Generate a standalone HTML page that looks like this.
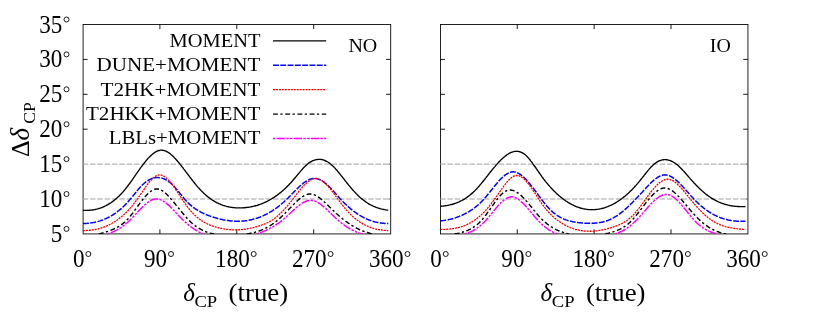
<!DOCTYPE html>
<html><head><meta charset="utf-8"><title>Delta CP precision</title>
<style>
html,body{margin:0;padding:0;background:#ffffff;}
body{width:831px;height:312px;overflow:hidden;font-family:"Liberation Serif",serif;}
svg{display:block;will-change:transform;}
</style></head><body>
<svg width="831" height="312" viewBox="0 0 831 312" role="img" aria-label="Delta CP precision versus true delta CP, normal and inverted ordering">
<rect x="0" y="0" width="831" height="312" fill="#ffffff"/>
<defs>
<clipPath id="clip0"><rect x="83.00" y="24.50" width="307.60" height="209.52"/></clipPath>
<clipPath id="clip1"><rect x="440.40" y="24.50" width="307.45" height="209.52"/></clipPath>
</defs>
<rect x="83.08" y="24.50" width="307.63" height="209.42" fill="none" stroke="#000" stroke-width="0.87"/>
<path d="M83.00,129.21 h4.60 M390.60,129.21 h-4.60 M83.00,94.31 h4.60 M390.60,94.31 h-4.60 M83.00,59.40 h4.60 M390.60,59.40 h-4.60 M159.90,233.92 v-4.60 M159.90,24.50 v4.60 M236.80,233.92 v-4.60 M236.80,24.50 v4.60 M313.70,233.92 v-4.60 M313.70,24.50 v4.60" stroke="#000" stroke-width="0.9" fill="none"/>
<line x1="82.70" y1="164.11" x2="390.60" y2="164.11" stroke="#a2a2a2" stroke-width="1.0" stroke-dasharray="5.5 1.82"/>
<line x1="82.70" y1="199.02" x2="390.60" y2="199.02" stroke="#a2a2a2" stroke-width="1.0" stroke-dasharray="5.5 1.82"/>
<path d="M390.60,199.02 h-2.10 M390.60,164.11 h-2.10" stroke="#444" stroke-width="0.9" fill="none"/>
<g clip-path="url(#clip0)" fill="none" stroke-linejoin="round">
<path d="M83.0,210.34 L83.9,210.38 L84.7,210.41 L85.6,210.42 L86.4,210.42 L87.3,210.40 L88.1,210.37 L89.0,210.32 L89.8,210.26 L90.7,210.18 L91.5,210.08 L92.4,209.97 L93.3,209.84 L94.1,209.69 L95.0,209.53 L95.8,209.34 L96.7,209.14 L97.5,208.92 L98.4,208.68 L99.2,208.42 L100.1,208.14 L100.9,207.84 L101.8,207.51 L102.7,207.17 L103.5,206.81 L104.4,206.42 L105.2,206.01 L106.1,205.58 L106.9,205.13 L107.8,204.65 L108.6,204.15 L109.5,203.62 L110.3,203.07 L111.2,202.50 L112.1,201.90 L112.9,201.28 L113.8,200.63 L114.6,199.95 L115.5,199.25 L116.3,198.52 L117.2,197.76 L118.0,196.97 L118.9,196.16 L119.7,195.32 L120.6,194.45 L121.5,193.55 L122.3,192.62 L123.2,191.67 L124.0,190.68 L124.9,189.66 L125.7,188.61 L126.6,187.53 L127.4,186.42 L128.3,185.29 L129.1,184.14 L130.0,182.97 L130.8,181.78 L131.7,180.58 L132.6,179.37 L133.4,178.15 L134.3,176.92 L135.1,175.69 L136.0,174.45 L136.8,173.22 L137.7,171.99 L138.5,170.77 L139.4,169.56 L140.2,168.37 L141.1,167.18 L142.0,166.02 L142.8,164.87 L143.7,163.75 L144.5,162.65 L145.4,161.58 L146.2,160.54 L147.1,159.54 L147.9,158.57 L148.8,157.64 L149.6,156.76 L150.5,155.91 L151.4,155.12 L152.2,154.37 L153.1,153.67 L153.9,153.03 L154.8,152.45 L155.6,151.93 L156.5,151.47 L157.3,151.07 L158.2,150.74 L159.0,150.48 L159.9,150.30 L160.8,150.19 L161.6,150.16 L162.5,150.21 L163.3,150.34 L164.2,150.54 L165.0,150.81 L165.9,151.15 L166.7,151.56 L167.6,152.03 L168.4,152.56 L169.3,153.15 L170.2,153.79 L171.0,154.48 L171.9,155.22 L172.7,156.01 L173.6,156.84 L174.4,157.71 L175.3,158.62 L176.1,159.56 L177.0,160.53 L177.8,161.53 L178.7,162.55 L179.6,163.60 L180.4,164.67 L181.3,165.75 L182.1,166.85 L183.0,167.96 L183.8,169.08 L184.7,170.20 L185.5,171.33 L186.4,172.46 L187.2,173.59 L188.1,174.72 L189.0,175.85 L189.8,176.98 L190.7,178.09 L191.5,179.20 L192.4,180.30 L193.2,181.39 L194.1,182.47 L194.9,183.53 L195.8,184.58 L196.6,185.60 L197.5,186.61 L198.3,187.59 L199.2,188.55 L200.1,189.48 L200.9,190.39 L201.8,191.27 L202.6,192.12 L203.5,192.94 L204.3,193.74 L205.2,194.51 L206.0,195.26 L206.9,195.98 L207.7,196.68 L208.6,197.35 L209.5,198.00 L210.3,198.62 L211.2,199.22 L212.0,199.80 L212.9,200.35 L213.7,200.88 L214.6,201.39 L215.4,201.88 L216.3,202.34 L217.1,202.79 L218.0,203.21 L218.9,203.61 L219.7,203.99 L220.6,204.36 L221.4,204.70 L222.3,205.02 L223.1,205.32 L224.0,205.61 L224.8,205.88 L225.7,206.12 L226.5,206.36 L227.4,206.57 L228.3,206.77 L229.1,206.95 L230.0,207.11 L230.8,207.26 L231.7,207.39 L232.5,207.50 L233.4,207.61 L234.2,207.69 L235.1,207.77 L235.9,207.82 L236.8,207.87 L237.7,207.90 L238.5,207.92 L239.4,207.92 L240.2,207.92 L241.1,207.90 L241.9,207.87 L242.8,207.82 L243.6,207.77 L244.5,207.71 L245.3,207.63 L246.2,207.54 L247.1,207.44 L247.9,207.33 L248.8,207.21 L249.6,207.07 L250.5,206.93 L251.3,206.77 L252.2,206.59 L253.0,206.41 L253.9,206.21 L254.7,206.00 L255.6,205.77 L256.5,205.53 L257.3,205.28 L258.2,205.01 L259.0,204.73 L259.9,204.44 L260.7,204.13 L261.6,203.80 L262.4,203.46 L263.3,203.11 L264.1,202.74 L265.0,202.36 L265.9,201.96 L266.7,201.54 L267.6,201.11 L268.4,200.66 L269.3,200.20 L270.1,199.72 L271.0,199.23 L271.8,198.71 L272.7,198.18 L273.5,197.64 L274.4,197.08 L275.2,196.50 L276.1,195.90 L277.0,195.28 L277.8,194.65 L278.7,194.00 L279.5,193.33 L280.4,192.64 L281.2,191.94 L282.1,191.21 L282.9,190.47 L283.8,189.71 L284.6,188.93 L285.5,188.13 L286.4,187.31 L287.2,186.47 L288.1,185.61 L288.9,184.73 L289.8,183.83 L290.6,182.91 L291.5,181.97 L292.3,181.01 L293.2,180.03 L294.0,179.03 L294.9,178.02 L295.8,176.99 L296.6,175.96 L297.5,174.92 L298.3,173.89 L299.2,172.87 L300.0,171.85 L300.9,170.85 L301.7,169.87 L302.6,168.92 L303.4,167.99 L304.3,167.09 L305.2,166.24 L306.0,165.42 L306.9,164.65 L307.7,163.93 L308.6,163.26 L309.4,162.65 L310.3,162.09 L311.1,161.58 L312.0,161.12 L312.8,160.71 L313.7,160.36 L314.6,160.06 L315.4,159.81 L316.3,159.61 L317.1,159.47 L318.0,159.38 L318.8,159.34 L319.7,159.35 L320.5,159.41 L321.4,159.52 L322.2,159.69 L323.1,159.91 L324.0,160.18 L324.8,160.50 L325.7,160.87 L326.5,161.30 L327.4,161.77 L328.2,162.30 L329.1,162.88 L329.9,163.51 L330.8,164.19 L331.6,164.92 L332.5,165.70 L333.4,166.53 L334.2,167.39 L335.1,168.30 L335.9,169.23 L336.8,170.20 L337.6,171.20 L338.5,172.22 L339.3,173.26 L340.2,174.32 L341.0,175.39 L341.9,176.47 L342.8,177.56 L343.6,178.65 L344.5,179.74 L345.3,180.83 L346.2,181.91 L347.0,182.99 L347.9,184.05 L348.7,185.11 L349.6,186.15 L350.4,187.18 L351.3,188.20 L352.1,189.20 L353.0,190.18 L353.9,191.14 L354.7,192.07 L355.6,192.99 L356.4,193.88 L357.3,194.74 L358.1,195.58 L359.0,196.38 L359.8,197.16 L360.7,197.92 L361.5,198.64 L362.4,199.34 L363.3,200.02 L364.1,200.67 L365.0,201.30 L365.8,201.90 L366.7,202.47 L367.5,203.03 L368.4,203.56 L369.2,204.06 L370.1,204.55 L370.9,205.01 L371.8,205.45 L372.7,205.87 L373.5,206.26 L374.4,206.64 L375.2,206.99 L376.1,207.33 L376.9,207.65 L377.8,207.94 L378.6,208.22 L379.5,208.48 L380.3,208.72 L381.2,208.95 L382.1,209.15 L382.9,209.34 L383.8,209.52 L384.6,209.67 L385.5,209.81 L386.3,209.94 L387.2,210.05 L388.0,210.14 L388.3,210.17" stroke="#000000" stroke-width="1.35"/>
<path d="M83.0,223.56 L83.9,223.54 L84.7,223.51 L85.6,223.47 L86.4,223.42 L87.3,223.36 L88.1,223.28 L89.0,223.20 L89.8,223.10 L90.7,222.99 L91.5,222.86 L92.4,222.73 L93.3,222.58 L94.1,222.41 L95.0,222.24 L95.8,222.04 L96.7,221.84 L97.5,221.62 L98.4,221.38 L99.2,221.13 L100.1,220.86 L100.9,220.58 L101.8,220.28 L102.7,219.97 L103.5,219.64 L104.4,219.29 L105.2,218.92 L106.1,218.54 L106.9,218.14 L107.8,217.72 L108.6,217.28 L109.5,216.83 L110.3,216.35 L111.2,215.86 L112.1,215.34 L112.9,214.81 L113.8,214.26 L114.6,213.68 L115.5,213.09 L116.3,212.47 L117.2,211.84 L118.0,211.18 L118.9,210.50 L119.7,209.80 L120.6,209.07 L121.5,208.33 L122.3,207.56 L123.2,206.77 L124.0,205.95 L124.9,205.11 L125.7,204.25 L126.6,203.36 L127.4,202.45 L128.3,201.51 L129.1,200.55 L130.0,199.56 L130.8,198.55 L131.7,197.51 L132.6,196.46 L133.4,195.39 L134.3,194.32 L135.1,193.25 L136.0,192.18 L136.8,191.12 L137.7,190.08 L138.5,189.06 L139.4,188.07 L140.2,187.11 L141.1,186.20 L142.0,185.33 L142.8,184.50 L143.7,183.72 L144.5,182.99 L145.4,182.30 L146.2,181.66 L147.1,181.07 L147.9,180.52 L148.8,180.02 L149.6,179.56 L150.5,179.15 L151.4,178.79 L152.2,178.48 L153.1,178.21 L153.9,177.98 L154.8,177.81 L155.6,177.68 L156.5,177.60 L157.3,177.56 L158.2,177.57 L159.0,177.63 L159.9,177.74 L160.8,177.89 L161.6,178.09 L162.5,178.34 L163.3,178.63 L164.2,178.97 L165.0,179.36 L165.9,179.80 L166.7,180.28 L167.6,180.81 L168.4,181.39 L169.3,182.01 L170.2,182.68 L171.0,183.40 L171.9,184.17 L172.7,184.99 L173.6,185.85 L174.4,186.76 L175.3,187.71 L176.1,188.70 L177.0,189.73 L177.8,190.77 L178.7,191.84 L179.6,192.91 L180.4,193.99 L181.3,195.06 L182.1,196.13 L183.0,197.17 L183.8,198.20 L184.7,199.19 L185.5,200.15 L186.4,201.07 L187.2,201.96 L188.1,202.81 L189.0,203.63 L189.8,204.42 L190.7,205.17 L191.5,205.90 L192.4,206.60 L193.2,207.27 L194.1,207.91 L194.9,208.52 L195.8,209.11 L196.6,209.68 L197.5,210.22 L198.3,210.74 L199.2,211.24 L200.1,211.71 L200.9,212.17 L201.8,212.61 L202.6,213.03 L203.5,213.43 L204.3,213.82 L205.2,214.19 L206.0,214.55 L206.9,214.90 L207.7,215.23 L208.6,215.55 L209.5,215.86 L210.3,216.17 L211.2,216.46 L212.0,216.75 L212.9,217.02 L213.7,217.30 L214.6,217.56 L215.4,217.81 L216.3,218.06 L217.1,218.30 L218.0,218.53 L218.9,218.75 L219.7,218.97 L220.6,219.17 L221.4,219.37 L222.3,219.55 L223.1,219.73 L224.0,219.90 L224.8,220.06 L225.7,220.21 L226.5,220.35 L227.4,220.48 L228.3,220.60 L229.1,220.72 L230.0,220.82 L230.8,220.91 L231.7,220.99 L232.5,221.06 L233.4,221.12 L234.2,221.17 L235.1,221.21 L235.9,221.24 L236.8,221.25 L237.7,221.26 L238.5,221.25 L239.4,221.24 L240.2,221.21 L241.1,221.17 L241.9,221.12 L242.8,221.05 L243.6,220.98 L244.5,220.89 L245.3,220.79 L246.2,220.68 L247.1,220.56 L247.9,220.42 L248.8,220.27 L249.6,220.11 L250.5,219.93 L251.3,219.74 L252.2,219.54 L253.0,219.33 L253.9,219.10 L254.7,218.86 L255.6,218.60 L256.5,218.34 L257.3,218.05 L258.2,217.76 L259.0,217.45 L259.9,217.13 L260.7,216.79 L261.6,216.44 L262.4,216.07 L263.3,215.69 L264.1,215.30 L265.0,214.89 L265.9,214.46 L266.7,214.02 L267.6,213.57 L268.4,213.10 L269.3,212.62 L270.1,212.12 L271.0,211.60 L271.8,211.07 L272.7,210.53 L273.5,209.97 L274.4,209.39 L275.2,208.80 L276.1,208.19 L277.0,207.57 L277.8,206.93 L278.7,206.27 L279.5,205.59 L280.4,204.91 L281.2,204.20 L282.1,203.48 L282.9,202.74 L283.8,201.98 L284.6,201.21 L285.5,200.42 L286.4,199.61 L287.2,198.78 L288.1,197.94 L288.9,197.09 L289.8,196.23 L290.6,195.36 L291.5,194.48 L292.3,193.60 L293.2,192.72 L294.0,191.85 L294.9,190.98 L295.8,190.11 L296.6,189.26 L297.5,188.42 L298.3,187.60 L299.2,186.79 L300.0,186.01 L300.9,185.25 L301.7,184.52 L302.6,183.81 L303.4,183.14 L304.3,182.49 L305.2,181.89 L306.0,181.33 L306.9,180.80 L307.7,180.32 L308.6,179.89 L309.4,179.51 L310.3,179.18 L311.1,178.91 L312.0,178.69 L312.8,178.53 L313.7,178.43 L314.6,178.40 L315.4,178.44 L316.3,178.55 L317.1,178.72 L318.0,178.95 L318.8,179.25 L319.7,179.60 L320.5,180.01 L321.4,180.47 L322.2,180.98 L323.1,181.54 L324.0,182.14 L324.8,182.79 L325.7,183.48 L326.5,184.20 L327.4,184.96 L328.2,185.76 L329.1,186.58 L329.9,187.43 L330.8,188.30 L331.6,189.20 L332.5,190.12 L333.4,191.05 L334.2,192.00 L335.1,192.95 L335.9,193.92 L336.8,194.89 L337.6,195.85 L338.5,196.82 L339.3,197.77 L340.2,198.71 L341.0,199.64 L341.9,200.55 L342.8,201.44 L343.6,202.31 L344.5,203.17 L345.3,204.00 L346.2,204.82 L347.0,205.62 L347.9,206.40 L348.7,207.16 L349.6,207.90 L350.4,208.62 L351.3,209.33 L352.1,210.02 L353.0,210.69 L353.9,211.34 L354.7,211.97 L355.6,212.59 L356.4,213.19 L357.3,213.76 L358.1,214.33 L359.0,214.87 L359.8,215.40 L360.7,215.91 L361.5,216.40 L362.4,216.87 L363.3,217.33 L364.1,217.76 L365.0,218.18 L365.8,218.59 L366.7,218.97 L367.5,219.34 L368.4,219.69 L369.2,220.03 L370.1,220.35 L370.9,220.65 L371.8,220.93 L372.7,221.20 L373.5,221.45 L374.4,221.69 L375.2,221.91 L376.1,222.11 L376.9,222.30 L377.8,222.48 L378.6,222.64 L379.5,222.79 L380.3,222.92 L381.2,223.04 L382.1,223.15 L382.9,223.25 L383.8,223.33 L384.6,223.40 L385.5,223.46 L386.3,223.50 L387.2,223.54 L388.0,223.56 L388.3,223.56" stroke="#0000ff" stroke-width="1.50" stroke-dasharray="5.9 1.4"/>
<path d="M83.0,230.59 L83.9,230.58 L84.7,230.56 L85.6,230.53 L86.4,230.50 L87.3,230.45 L88.1,230.39 L89.0,230.32 L89.8,230.24 L90.7,230.15 L91.5,230.05 L92.4,229.94 L93.3,229.81 L94.1,229.67 L95.0,229.52 L95.8,229.35 L96.7,229.17 L97.5,228.98 L98.4,228.77 L99.2,228.55 L100.1,228.32 L100.9,228.06 L101.8,227.80 L102.7,227.52 L103.5,227.22 L104.4,226.90 L105.2,226.57 L106.1,226.22 L106.9,225.86 L107.8,225.47 L108.6,225.07 L109.5,224.65 L110.3,224.22 L111.2,223.76 L112.1,223.28 L112.9,222.79 L113.8,222.27 L114.6,221.74 L115.5,221.18 L116.3,220.61 L117.2,220.01 L118.0,219.39 L118.9,218.75 L119.7,218.09 L120.6,217.41 L121.5,216.70 L122.3,215.97 L123.2,215.22 L124.0,214.44 L124.9,213.64 L125.7,212.82 L126.6,211.97 L127.4,211.10 L128.3,210.20 L129.1,209.28 L130.0,208.33 L130.8,207.35 L131.7,206.35 L132.6,205.32 L133.4,204.27 L134.3,203.19 L135.1,202.08 L136.0,200.94 L136.8,199.77 L137.7,198.58 L138.5,197.36 L139.4,196.12 L140.2,194.86 L141.1,193.60 L142.0,192.33 L142.8,191.06 L143.7,189.80 L144.5,188.55 L145.4,187.32 L146.2,186.12 L147.1,184.94 L147.9,183.81 L148.8,182.71 L149.6,181.67 L150.5,180.67 L151.4,179.74 L152.2,178.87 L153.1,178.08 L153.9,177.36 L154.8,176.72 L155.6,176.17 L156.5,175.72 L157.3,175.36 L158.2,175.11 L159.0,174.97 L159.9,174.95 L160.8,175.04 L161.6,175.24 L162.5,175.54 L163.3,175.93 L164.2,176.42 L165.0,176.99 L165.9,177.65 L166.7,178.39 L167.6,179.19 L168.4,180.07 L169.3,181.00 L170.2,182.00 L171.0,183.04 L171.9,184.14 L172.7,185.27 L173.6,186.45 L174.4,187.65 L175.3,188.89 L176.1,190.14 L177.0,191.42 L177.8,192.71 L178.7,194.00 L179.6,195.31 L180.4,196.61 L181.3,197.91 L182.1,199.20 L183.0,200.48 L183.8,201.75 L184.7,202.99 L185.5,204.21 L186.4,205.40 L187.2,206.56 L188.1,207.68 L189.0,208.76 L189.8,209.80 L190.7,210.80 L191.5,211.77 L192.4,212.70 L193.2,213.60 L194.1,214.46 L194.9,215.29 L195.8,216.08 L196.6,216.84 L197.5,217.57 L198.3,218.26 L199.2,218.93 L200.1,219.56 L200.9,220.17 L201.8,220.74 L202.6,221.29 L203.5,221.81 L204.3,222.30 L205.2,222.77 L206.0,223.21 L206.9,223.63 L207.7,224.04 L208.6,224.42 L209.5,224.78 L210.3,225.13 L211.2,225.46 L212.0,225.77 L212.9,226.07 L213.7,226.36 L214.6,226.64 L215.4,226.90 L216.3,227.15 L217.1,227.40 L218.0,227.63 L218.9,227.84 L219.7,228.05 L220.6,228.25 L221.4,228.43 L222.3,228.60 L223.1,228.76 L224.0,228.91 L224.8,229.05 L225.7,229.18 L226.5,229.29 L227.4,229.40 L228.3,229.49 L229.1,229.58 L230.0,229.65 L230.8,229.71 L231.7,229.76 L232.5,229.80 L233.4,229.83 L234.2,229.85 L235.1,229.85 L235.9,229.85 L236.8,229.84 L237.7,229.81 L238.5,229.78 L239.4,229.73 L240.2,229.68 L241.1,229.61 L241.9,229.53 L242.8,229.45 L243.6,229.35 L244.5,229.25 L245.3,229.13 L246.2,229.00 L247.1,228.87 L247.9,228.72 L248.8,228.56 L249.6,228.40 L250.5,228.22 L251.3,228.04 L252.2,227.84 L253.0,227.64 L253.9,227.42 L254.7,227.20 L255.6,226.96 L256.5,226.72 L257.3,226.47 L258.2,226.21 L259.0,225.94 L259.9,225.66 L260.7,225.37 L261.6,225.07 L262.4,224.76 L263.3,224.44 L264.1,224.11 L265.0,223.76 L265.9,223.39 L266.7,223.01 L267.6,222.61 L268.4,222.18 L269.3,221.74 L270.1,221.27 L271.0,220.78 L271.8,220.26 L272.7,219.72 L273.5,219.15 L274.4,218.54 L275.2,217.91 L276.1,217.24 L277.0,216.54 L277.8,215.81 L278.7,215.05 L279.5,214.26 L280.4,213.45 L281.2,212.60 L282.1,211.74 L282.9,210.84 L283.8,209.93 L284.6,208.99 L285.5,208.03 L286.4,207.05 L287.2,206.06 L288.1,205.04 L288.9,204.01 L289.8,202.97 L290.6,201.91 L291.5,200.84 L292.3,199.76 L293.2,198.67 L294.0,197.56 L294.9,196.46 L295.8,195.35 L296.6,194.25 L297.5,193.15 L298.3,192.07 L299.2,190.99 L300.0,189.94 L300.9,188.91 L301.7,187.91 L302.6,186.93 L303.4,185.99 L304.3,185.09 L305.2,184.23 L306.0,183.41 L306.9,182.64 L307.7,181.93 L308.6,181.27 L309.4,180.68 L310.3,180.15 L311.1,179.69 L312.0,179.30 L312.8,178.99 L313.7,178.76 L314.6,178.61 L315.4,178.55 L316.3,178.58 L317.1,178.70 L318.0,178.90 L318.8,179.18 L319.7,179.53 L320.5,179.96 L321.4,180.45 L322.2,181.02 L323.1,181.64 L324.0,182.33 L324.8,183.07 L325.7,183.86 L326.5,184.71 L327.4,185.60 L328.2,186.53 L329.1,187.50 L329.9,188.51 L330.8,189.56 L331.6,190.63 L332.5,191.73 L333.4,192.85 L334.2,193.99 L335.1,195.15 L335.9,196.31 L336.8,197.49 L337.6,198.66 L338.5,199.84 L339.3,201.01 L340.2,202.17 L341.0,203.33 L341.9,204.46 L342.8,205.57 L343.6,206.66 L344.5,207.72 L345.3,208.75 L346.2,209.75 L347.0,210.72 L347.9,211.66 L348.7,212.58 L349.6,213.46 L350.4,214.31 L351.3,215.14 L352.1,215.94 L353.0,216.72 L353.9,217.46 L354.7,218.18 L355.6,218.88 L356.4,219.55 L357.3,220.20 L358.1,220.82 L359.0,221.42 L359.8,222.00 L360.7,222.55 L361.5,223.08 L362.4,223.59 L363.3,224.08 L364.1,224.54 L365.0,224.99 L365.8,225.41 L366.7,225.82 L367.5,226.20 L368.4,226.57 L369.2,226.92 L370.1,227.25 L370.9,227.56 L371.8,227.85 L372.7,228.13 L373.5,228.38 L374.4,228.63 L375.2,228.85 L376.1,229.06 L376.9,229.26 L377.8,229.44 L378.6,229.60 L379.5,229.75 L380.3,229.89 L381.2,230.01 L382.1,230.12 L382.9,230.22 L383.8,230.30 L384.6,230.38 L385.5,230.44 L386.3,230.49 L387.2,230.53 L388.0,230.56 L388.3,230.57" stroke="#ff0000" stroke-width="1.30" stroke-dasharray="2.05 0.9"/>
<path d="M98.8,233.95 L99.2,233.84 L100.1,233.64 L100.9,233.43 L101.8,233.20 L102.7,232.97 L103.5,232.73 L104.4,232.47 L105.2,232.21 L106.1,231.93 L106.9,231.65 L107.8,231.35 L108.6,231.04 L109.5,230.73 L110.3,230.40 L111.2,230.06 L112.1,229.71 L112.9,229.35 L113.8,228.97 L114.6,228.58 L115.5,228.18 L116.3,227.76 L117.2,227.31 L118.0,226.84 L118.9,226.35 L119.7,225.82 L120.6,225.27 L121.5,224.68 L122.3,224.06 L123.2,223.40 L124.0,222.70 L124.9,221.95 L125.7,221.16 L126.6,220.32 L127.4,219.44 L128.3,218.50 L129.1,217.52 L130.0,216.50 L130.8,215.45 L131.7,214.37 L132.6,213.26 L133.4,212.13 L134.3,210.98 L135.1,209.82 L136.0,208.64 L136.8,207.47 L137.7,206.29 L138.5,205.12 L139.4,203.95 L140.2,202.80 L141.1,201.66 L142.0,200.55 L142.8,199.46 L143.7,198.39 L144.5,197.37 L145.4,196.38 L146.2,195.43 L147.1,194.53 L147.9,193.68 L148.8,192.88 L149.6,192.15 L150.5,191.48 L151.4,190.87 L152.2,190.34 L153.1,189.89 L153.9,189.51 L154.8,189.23 L155.6,189.03 L156.5,188.92 L157.3,188.91 L158.2,189.01 L159.0,189.19 L159.9,189.47 L160.8,189.83 L161.6,190.28 L162.5,190.79 L163.3,191.38 L164.2,192.03 L165.0,192.74 L165.9,193.51 L166.7,194.32 L167.6,195.18 L168.4,196.07 L169.3,197.00 L170.2,197.96 L171.0,198.94 L171.9,199.94 L172.7,200.96 L173.6,201.99 L174.4,203.03 L175.3,204.08 L176.1,205.13 L177.0,206.19 L177.8,207.25 L178.7,208.32 L179.6,209.38 L180.4,210.43 L181.3,211.48 L182.1,212.52 L183.0,213.55 L183.8,214.56 L184.7,215.56 L185.5,216.54 L186.4,217.50 L187.2,218.44 L188.1,219.35 L189.0,220.23 L189.8,221.09 L190.7,221.91 L191.5,222.71 L192.4,223.46 L193.2,224.19 L194.1,224.89 L194.9,225.55 L195.8,226.19 L196.6,226.80 L197.5,227.38 L198.3,227.93 L199.2,228.45 L200.1,228.95 L200.9,229.42 L201.8,229.87 L202.6,230.29 L203.5,230.69 L204.3,231.07 L205.2,231.42 L206.0,231.75 L206.9,232.07 L207.7,232.36 L208.6,232.63 L209.5,232.88 L210.3,233.11 L211.2,233.33 L212.0,233.53 L212.9,233.71 L213.7,233.88 L214.1,233.95 M246.7,233.95 L247.5,233.83 L248.3,233.69 L249.2,233.54 L250.0,233.38 L250.9,233.21 L251.8,233.03 L252.6,232.84 L253.5,232.63 L254.3,232.42 L255.2,232.18 L256.0,231.94 L256.9,231.68 L257.7,231.41 L258.6,231.12 L259.4,230.82 L260.3,230.50 L261.2,230.17 L262.0,229.82 L262.9,229.45 L263.7,229.07 L264.6,228.67 L265.4,228.25 L266.3,227.82 L267.1,227.37 L268.0,226.89 L268.8,226.40 L269.7,225.89 L270.6,225.36 L271.4,224.81 L272.3,224.24 L273.1,223.65 L274.0,223.03 L274.8,222.40 L275.7,221.74 L276.5,221.06 L277.4,220.36 L278.2,219.64 L279.1,218.89 L279.9,218.13 L280.8,217.34 L281.7,216.55 L282.5,215.73 L283.4,214.91 L284.2,214.07 L285.1,213.22 L285.9,212.35 L286.8,211.49 L287.6,210.61 L288.5,209.73 L289.3,208.85 L290.2,207.96 L291.1,207.07 L291.9,206.18 L292.8,205.30 L293.6,204.43 L294.5,203.57 L295.3,202.72 L296.2,201.90 L297.0,201.09 L297.9,200.31 L298.7,199.56 L299.6,198.85 L300.5,198.16 L301.3,197.52 L302.2,196.92 L303.0,196.37 L303.9,195.86 L304.7,195.41 L305.6,195.02 L306.4,194.68 L307.3,194.41 L308.1,194.21 L309.0,194.07 L309.9,194.01 L310.7,194.02 L311.6,194.11 L312.4,194.27 L313.3,194.50 L314.1,194.78 L315.0,195.13 L315.8,195.54 L316.7,196.00 L317.5,196.51 L318.4,197.06 L319.3,197.66 L320.1,198.30 L321.0,198.97 L321.8,199.68 L322.7,200.42 L323.5,201.18 L324.4,201.96 L325.2,202.76 L326.1,203.58 L326.9,204.40 L327.8,205.24 L328.7,206.08 L329.5,206.92 L330.4,207.76 L331.2,208.60 L332.1,209.42 L332.9,210.24 L333.8,211.05 L334.6,211.86 L335.5,212.65 L336.3,213.43 L337.2,214.20 L338.1,214.97 L338.9,215.72 L339.8,216.46 L340.6,217.18 L341.5,217.90 L342.3,218.60 L343.2,219.29 L344.0,219.96 L344.9,220.62 L345.7,221.26 L346.6,221.89 L347.5,222.50 L348.3,223.10 L349.2,223.68 L350.0,224.25 L350.9,224.80 L351.7,225.33 L352.6,225.85 L353.4,226.36 L354.3,226.85 L355.1,227.32 L356.0,227.78 L356.8,228.23 L357.7,228.66 L358.6,229.08 L359.4,229.48 L360.3,229.87 L361.1,230.25 L362.0,230.61 L362.8,230.96 L363.7,231.30 L364.5,231.62 L365.4,231.93 L366.2,232.23 L367.1,232.51 L368.0,232.78 L368.8,233.04 L369.7,233.29 L370.5,233.52 L371.4,233.74 L372.2,233.95" stroke="#000000" stroke-width="1.45" stroke-dasharray="4.9 2.45 2.25 2.6"/>
<path d="M107.3,233.95 L107.8,233.81 L108.6,233.53 L109.5,233.25 L110.3,232.94 L111.2,232.61 L112.1,232.27 L112.9,231.91 L113.8,231.53 L114.6,231.13 L115.5,230.71 L116.3,230.28 L117.2,229.82 L118.0,229.33 L118.9,228.83 L119.7,228.30 L120.6,227.76 L121.5,227.18 L122.3,226.59 L123.2,225.97 L124.0,225.32 L124.9,224.65 L125.7,223.96 L126.6,223.24 L127.4,222.49 L128.3,221.71 L129.1,220.91 L130.0,220.08 L130.8,219.22 L131.7,218.35 L132.6,217.46 L133.4,216.55 L134.3,215.64 L135.1,214.72 L136.0,213.79 L136.8,212.86 L137.7,211.94 L138.5,211.02 L139.4,210.11 L140.2,209.22 L141.1,208.34 L142.0,207.48 L142.8,206.64 L143.7,205.83 L144.5,205.04 L145.4,204.29 L146.2,203.57 L147.1,202.90 L147.9,202.26 L148.8,201.67 L149.6,201.13 L150.5,200.64 L151.4,200.20 L152.2,199.83 L153.1,199.51 L153.9,199.26 L154.8,199.08 L155.6,198.97 L156.5,198.94 L157.3,198.98 L158.2,199.09 L159.0,199.28 L159.9,199.54 L160.8,199.86 L161.6,200.24 L162.5,200.68 L163.3,201.17 L164.2,201.72 L165.0,202.31 L165.9,202.95 L166.7,203.63 L167.6,204.35 L168.4,205.10 L169.3,205.89 L170.2,206.70 L171.0,207.54 L171.9,208.40 L172.7,209.27 L173.6,210.17 L174.4,211.07 L175.3,211.98 L176.1,212.90 L177.0,213.82 L177.8,214.73 L178.7,215.65 L179.6,216.55 L180.4,217.44 L181.3,218.32 L182.1,219.18 L183.0,220.01 L183.8,220.83 L184.7,221.62 L185.5,222.39 L186.4,223.14 L187.2,223.88 L188.1,224.59 L189.0,225.28 L189.8,225.95 L190.7,226.60 L191.5,227.24 L192.4,227.85 L193.2,228.45 L194.1,229.03 L194.9,229.60 L195.8,230.14 L196.6,230.67 L197.5,231.18 L198.3,231.68 L199.2,232.15 L200.1,232.61 L200.9,233.06 L201.8,233.49 L202.6,233.90 L202.7,233.95 M256.7,233.95 L257.3,233.75 L258.2,233.45 L259.0,233.14 L259.9,232.82 L260.7,232.49 L261.6,232.16 L262.4,231.82 L263.3,231.47 L264.1,231.10 L265.0,230.73 L265.9,230.35 L266.7,229.96 L267.6,229.55 L268.4,229.13 L269.3,228.70 L270.1,228.26 L271.0,227.80 L271.8,227.33 L272.7,226.85 L273.5,226.35 L274.4,225.83 L275.2,225.30 L276.1,224.75 L277.0,224.19 L277.8,223.61 L278.7,223.01 L279.5,222.39 L280.4,221.75 L281.2,221.10 L282.1,220.42 L282.9,219.72 L283.8,219.01 L284.6,218.27 L285.5,217.52 L286.4,216.75 L287.2,215.96 L288.1,215.17 L288.9,214.37 L289.8,213.57 L290.6,212.76 L291.5,211.96 L292.3,211.16 L293.2,210.37 L294.0,209.59 L294.9,208.82 L295.8,208.07 L296.6,207.34 L297.5,206.62 L298.3,205.93 L299.2,205.27 L300.0,204.64 L300.9,204.04 L301.7,203.47 L302.6,202.94 L303.4,202.46 L304.3,202.01 L305.2,201.62 L306.0,201.27 L306.9,200.97 L307.7,200.73 L308.6,200.54 L309.4,200.42 L310.3,200.36 L311.1,200.36 L312.0,200.44 L312.8,200.57 L313.7,200.77 L314.6,201.03 L315.4,201.35 L316.3,201.72 L317.1,202.14 L318.0,202.60 L318.8,203.11 L319.7,203.67 L320.5,204.26 L321.4,204.89 L322.2,205.55 L323.1,206.25 L324.0,206.97 L324.8,207.71 L325.7,208.48 L326.5,209.26 L327.4,210.07 L328.2,210.88 L329.1,211.70 L329.9,212.54 L330.8,213.37 L331.6,214.21 L332.5,215.05 L333.4,215.88 L334.2,216.70 L335.1,217.52 L335.9,218.32 L336.8,219.10 L337.6,219.87 L338.5,220.62 L339.3,221.35 L340.2,222.06 L341.0,222.75 L341.9,223.42 L342.8,224.08 L343.6,224.71 L344.5,225.32 L345.3,225.92 L346.2,226.49 L347.0,227.04 L347.9,227.57 L348.7,228.09 L349.6,228.58 L350.4,229.06 L351.3,229.51 L352.1,229.95 L353.0,230.37 L353.9,230.78 L354.7,231.16 L355.6,231.53 L356.4,231.89 L357.3,232.23 L358.1,232.55 L359.0,232.86 L359.8,233.15 L360.7,233.43 L361.5,233.69 L362.4,233.94 L362.4,233.95" stroke="#ff00ff" stroke-width="1.50" stroke-dasharray="8.25 1.4 2.4 1.3 2.4 1.3" stroke-dashoffset="13.35"/>
</g>
<text x="72.88" y="267.00" font-family="Liberation Serif, serif" font-size="24.6" textLength="11.55" lengthAdjust="spacingAndGlyphs">0</text>
<circle cx="88.33" cy="254.00" r="2.5" fill="none" stroke="#000" stroke-width="0.9"/>
<text x="144.00" y="267.00" font-family="Liberation Serif, serif" font-size="24.6" textLength="23.10" lengthAdjust="spacingAndGlyphs">90</text>
<circle cx="171.00" cy="254.00" r="2.5" fill="none" stroke="#000" stroke-width="0.9"/>
<text x="215.12" y="267.00" font-family="Liberation Serif, serif" font-size="24.6" textLength="34.65" lengthAdjust="spacingAndGlyphs">180</text>
<circle cx="253.68" cy="254.00" r="2.5" fill="none" stroke="#000" stroke-width="0.9"/>
<text x="292.03" y="267.00" font-family="Liberation Serif, serif" font-size="24.6" textLength="34.65" lengthAdjust="spacingAndGlyphs">270</text>
<circle cx="330.58" cy="254.00" r="2.5" fill="none" stroke="#000" stroke-width="0.9"/>
<text x="368.93" y="267.00" font-family="Liberation Serif, serif" font-size="24.6" textLength="34.65" lengthAdjust="spacingAndGlyphs">360</text>
<circle cx="407.48" cy="254.00" r="2.5" fill="none" stroke="#000" stroke-width="0.9"/>
<text x="348.40" y="52.4" font-family="Liberation Serif, serif" font-size="19.6" textLength="28.90" lengthAdjust="spacingAndGlyphs">NO</text>
<text x="183.20" y="301.2" font-family="Liberation Serif, serif" font-size="25" font-style="italic">δ</text>
<text x="194.40" y="306.8" font-family="Liberation Serif, serif" font-size="16.8" textLength="22.8" lengthAdjust="spacingAndGlyphs">CP</text>
<text x="228.60" y="301.2" font-family="Liberation Serif, serif" font-size="24.5" textLength="59.6" lengthAdjust="spacingAndGlyphs">(true)</text>
<rect x="440.50" y="24.50" width="307.44" height="209.42" fill="none" stroke="#000" stroke-width="0.87"/>
<path d="M440.40,129.21 h4.60 M747.85,129.21 h-4.60 M440.40,94.31 h4.60 M747.85,94.31 h-4.60 M440.40,59.40 h4.60 M747.85,59.40 h-4.60 M517.26,233.92 v-4.60 M517.26,24.50 v4.60 M594.12,233.92 v-4.60 M594.12,24.50 v4.60 M670.99,233.92 v-4.60 M670.99,24.50 v4.60" stroke="#000" stroke-width="0.9" fill="none"/>
<line x1="440.10" y1="164.11" x2="747.85" y2="164.11" stroke="#a2a2a2" stroke-width="1.0" stroke-dasharray="5.5 1.82"/>
<line x1="440.10" y1="199.02" x2="747.85" y2="199.02" stroke="#a2a2a2" stroke-width="1.0" stroke-dasharray="5.5 1.82"/>
<path d="M747.85,199.02 h-2.10 M747.85,164.11 h-2.10" stroke="#444" stroke-width="0.9" fill="none"/>
<g clip-path="url(#clip1)" fill="none" stroke-linejoin="round">
<path d="M440.4,206.34 L441.3,206.26 L442.1,206.18 L443.0,206.08 L443.8,205.98 L444.7,205.86 L445.5,205.74 L446.4,205.60 L447.2,205.45 L448.1,205.29 L448.9,205.11 L449.8,204.92 L450.6,204.72 L451.5,204.50 L452.4,204.26 L453.2,204.01 L454.1,203.75 L454.9,203.46 L455.8,203.16 L456.6,202.84 L457.5,202.50 L458.3,202.14 L459.2,201.76 L460.0,201.37 L460.9,200.95 L461.8,200.51 L462.6,200.05 L463.5,199.56 L464.3,199.06 L465.2,198.52 L466.0,197.97 L466.9,197.39 L467.7,196.79 L468.6,196.16 L469.4,195.50 L470.3,194.82 L471.1,194.11 L472.0,193.37 L472.9,192.61 L473.7,191.81 L474.6,190.99 L475.4,190.14 L476.3,189.26 L477.1,188.34 L478.0,187.40 L478.8,186.43 L479.7,185.44 L480.5,184.43 L481.4,183.40 L482.2,182.36 L483.1,181.30 L484.0,180.23 L484.8,179.15 L485.7,178.06 L486.5,176.97 L487.4,175.88 L488.2,174.79 L489.1,173.70 L489.9,172.62 L490.8,171.54 L491.6,170.48 L492.5,169.42 L493.3,168.37 L494.2,167.34 L495.1,166.33 L495.9,165.33 L496.8,164.35 L497.6,163.39 L498.5,162.46 L499.3,161.55 L500.2,160.66 L501.0,159.81 L501.9,158.98 L502.7,158.19 L503.6,157.43 L504.5,156.70 L505.3,156.02 L506.2,155.37 L507.0,154.76 L507.9,154.20 L508.7,153.67 L509.6,153.20 L510.4,152.77 L511.3,152.40 L512.1,152.07 L513.0,151.80 L513.8,151.58 L514.7,151.42 L515.6,151.32 L516.4,151.28 L517.3,151.30 L518.1,151.38 L519.0,151.53 L519.8,151.75 L520.7,152.04 L521.5,152.40 L522.4,152.83 L523.2,153.34 L524.1,153.92 L524.9,154.58 L525.8,155.32 L526.7,156.13 L527.5,157.01 L528.4,157.94 L529.2,158.94 L530.1,159.98 L530.9,161.07 L531.8,162.20 L532.6,163.36 L533.5,164.55 L534.3,165.76 L535.2,166.99 L536.1,168.24 L536.9,169.49 L537.8,170.74 L538.6,171.99 L539.5,173.23 L540.3,174.45 L541.2,175.65 L542.0,176.83 L542.9,177.99 L543.7,179.12 L544.6,180.23 L545.4,181.32 L546.3,182.38 L547.2,183.42 L548.0,184.44 L548.9,185.43 L549.7,186.40 L550.6,187.36 L551.4,188.28 L552.3,189.19 L553.1,190.08 L554.0,190.94 L554.8,191.79 L555.7,192.61 L556.5,193.42 L557.4,194.20 L558.3,194.97 L559.1,195.71 L560.0,196.44 L560.8,197.14 L561.7,197.83 L562.5,198.49 L563.4,199.14 L564.2,199.77 L565.1,200.37 L565.9,200.96 L566.8,201.53 L567.7,202.08 L568.5,202.61 L569.4,203.12 L570.2,203.61 L571.1,204.08 L571.9,204.53 L572.8,204.97 L573.6,205.38 L574.5,205.78 L575.3,206.15 L576.2,206.51 L577.0,206.85 L577.9,207.16 L578.8,207.46 L579.6,207.74 L580.5,208.01 L581.3,208.25 L582.2,208.47 L583.0,208.68 L583.9,208.86 L584.7,209.03 L585.6,209.18 L586.4,209.31 L587.3,209.42 L588.1,209.51 L589.0,209.59 L589.9,209.64 L590.7,209.68 L591.6,209.70 L592.4,209.70 L593.3,209.68 L594.1,209.65 L595.0,209.59 L595.8,209.52 L596.7,209.43 L597.5,209.32 L598.4,209.19 L599.2,209.04 L600.1,208.88 L601.0,208.70 L601.8,208.50 L602.7,208.28 L603.5,208.04 L604.4,207.79 L605.2,207.51 L606.1,207.22 L606.9,206.91 L607.8,206.59 L608.6,206.24 L609.5,205.88 L610.4,205.50 L611.2,205.10 L612.1,204.68 L612.9,204.24 L613.8,203.79 L614.6,203.31 L615.5,202.82 L616.3,202.31 L617.2,201.78 L618.0,201.24 L618.9,200.67 L619.7,200.08 L620.6,199.48 L621.5,198.86 L622.3,198.21 L623.2,197.55 L624.0,196.87 L624.9,196.17 L625.7,195.46 L626.6,194.72 L627.4,193.96 L628.3,193.19 L629.1,192.39 L630.0,191.58 L630.8,190.75 L631.7,189.90 L632.6,189.02 L633.4,188.13 L634.3,187.22 L635.1,186.29 L636.0,185.34 L636.8,184.37 L637.7,183.38 L638.5,182.37 L639.4,181.35 L640.2,180.30 L641.1,179.23 L642.0,178.15 L642.8,177.06 L643.7,175.97 L644.5,174.88 L645.4,173.79 L646.2,172.72 L647.1,171.66 L647.9,170.62 L648.8,169.60 L649.6,168.62 L650.5,167.67 L651.3,166.76 L652.2,165.89 L653.1,165.08 L653.9,164.31 L654.8,163.61 L655.6,162.97 L656.5,162.38 L657.3,161.85 L658.2,161.38 L659.0,160.97 L659.9,160.61 L660.7,160.31 L661.6,160.06 L662.4,159.87 L663.3,159.74 L664.2,159.66 L665.0,159.63 L665.9,159.65 L666.7,159.73 L667.6,159.86 L668.4,160.05 L669.3,160.28 L670.1,160.57 L671.0,160.90 L671.8,161.29 L672.7,161.72 L673.5,162.21 L674.4,162.74 L675.3,163.32 L676.1,163.95 L677.0,164.62 L677.8,165.34 L678.7,166.10 L679.5,166.90 L680.4,167.73 L681.2,168.59 L682.1,169.47 L682.9,170.39 L683.8,171.32 L684.7,172.27 L685.5,173.23 L686.4,174.20 L687.2,175.19 L688.1,176.17 L688.9,177.16 L689.8,178.14 L690.6,179.12 L691.5,180.08 L692.3,181.04 L693.2,181.98 L694.0,182.91 L694.9,183.82 L695.8,184.72 L696.6,185.60 L697.5,186.47 L698.3,187.33 L699.2,188.16 L700.0,188.98 L700.9,189.78 L701.7,190.56 L702.6,191.33 L703.4,192.07 L704.3,192.80 L705.1,193.51 L706.0,194.19 L706.9,194.86 L707.7,195.50 L708.6,196.12 L709.4,196.72 L710.3,197.30 L711.1,197.86 L712.0,198.40 L712.8,198.92 L713.7,199.42 L714.5,199.90 L715.4,200.36 L716.3,200.80 L717.1,201.22 L718.0,201.63 L718.8,202.01 L719.7,202.38 L720.5,202.73 L721.4,203.07 L722.2,203.38 L723.1,203.68 L723.9,203.97 L724.8,204.23 L725.6,204.49 L726.5,204.72 L727.4,204.94 L728.2,205.15 L729.1,205.34 L729.9,205.52 L730.8,205.68 L731.6,205.83 L732.5,205.96 L733.3,206.08 L734.2,206.19 L735.0,206.28 L735.9,206.36 L736.7,206.43 L737.6,206.49 L738.5,206.54 L739.3,206.57 L740.2,206.59 L741.0,206.61 L741.9,206.61 L742.7,206.60 L743.6,206.58 L744.4,206.55 L745.3,206.51 L745.5,206.50" stroke="#000000" stroke-width="1.35"/>
<path d="M440.4,220.93 L441.3,220.84 L442.1,220.74 L443.0,220.63 L443.8,220.51 L444.7,220.38 L445.5,220.24 L446.4,220.09 L447.2,219.92 L448.1,219.75 L448.9,219.56 L449.8,219.37 L450.6,219.16 L451.5,218.94 L452.4,218.71 L453.2,218.47 L454.1,218.21 L454.9,217.94 L455.8,217.66 L456.6,217.37 L457.5,217.06 L458.3,216.74 L459.2,216.41 L460.0,216.06 L460.9,215.70 L461.8,215.33 L462.6,214.94 L463.5,214.54 L464.3,214.12 L465.2,213.69 L466.0,213.24 L466.9,212.78 L467.7,212.29 L468.6,211.80 L469.4,211.28 L470.3,210.75 L471.1,210.19 L472.0,209.62 L472.9,209.02 L473.7,208.40 L474.6,207.76 L475.4,207.10 L476.3,206.41 L477.1,205.70 L478.0,204.97 L478.8,204.21 L479.7,203.42 L480.5,202.60 L481.4,201.76 L482.2,200.89 L483.1,199.99 L484.0,199.06 L484.8,198.10 L485.7,197.12 L486.5,196.11 L487.4,195.08 L488.2,194.04 L489.1,192.98 L489.9,191.92 L490.8,190.84 L491.6,189.77 L492.5,188.69 L493.3,187.62 L494.2,186.56 L495.1,185.51 L495.9,184.47 L496.8,183.45 L497.6,182.45 L498.5,181.48 L499.3,180.53 L500.2,179.61 L501.0,178.73 L501.9,177.88 L502.7,177.08 L503.6,176.32 L504.5,175.60 L505.3,174.94 L506.2,174.34 L507.0,173.79 L507.9,173.30 L508.7,172.88 L509.6,172.52 L510.4,172.24 L511.3,172.03 L512.1,171.89 L513.0,171.84 L513.8,171.87 L514.7,171.98 L515.6,172.17 L516.4,172.43 L517.3,172.75 L518.1,173.15 L519.0,173.61 L519.8,174.13 L520.7,174.71 L521.5,175.35 L522.4,176.04 L523.2,176.78 L524.1,177.57 L524.9,178.40 L525.8,179.28 L526.7,180.19 L527.5,181.14 L528.4,182.12 L529.2,183.13 L530.1,184.17 L530.9,185.24 L531.8,186.32 L532.6,187.43 L533.5,188.55 L534.3,189.69 L535.2,190.83 L536.1,191.99 L536.9,193.15 L537.8,194.31 L538.6,195.47 L539.5,196.62 L540.3,197.77 L541.2,198.91 L542.0,200.04 L542.9,201.15 L543.7,202.25 L544.6,203.32 L545.4,204.37 L546.3,205.39 L547.2,206.39 L548.0,207.35 L548.9,208.28 L549.7,209.17 L550.6,210.02 L551.4,210.83 L552.3,211.61 L553.1,212.35 L554.0,213.06 L554.8,213.73 L555.7,214.37 L556.5,214.98 L557.4,215.56 L558.3,216.11 L559.1,216.63 L560.0,217.12 L560.8,217.58 L561.7,218.02 L562.5,218.43 L563.4,218.81 L564.2,219.18 L565.1,219.52 L565.9,219.84 L566.8,220.14 L567.7,220.41 L568.5,220.67 L569.4,220.92 L570.2,221.14 L571.1,221.35 L571.9,221.54 L572.8,221.72 L573.6,221.89 L574.5,222.04 L575.3,222.19 L576.2,222.32 L577.0,222.44 L577.9,222.55 L578.8,222.66 L579.6,222.76 L580.5,222.85 L581.3,222.94 L582.2,223.01 L583.0,223.08 L583.9,223.14 L584.7,223.19 L585.6,223.24 L586.4,223.28 L587.3,223.30 L588.1,223.32 L589.0,223.33 L589.9,223.33 L590.7,223.32 L591.6,223.30 L592.4,223.27 L593.3,223.23 L594.1,223.18 L595.0,223.11 L595.8,223.04 L596.7,222.95 L597.5,222.86 L598.4,222.75 L599.2,222.62 L600.1,222.48 L601.0,222.32 L601.8,222.15 L602.7,221.96 L603.5,221.76 L604.4,221.54 L605.2,221.29 L606.1,221.03 L606.9,220.75 L607.8,220.45 L608.6,220.12 L609.5,219.78 L610.4,219.41 L611.2,219.02 L612.1,218.60 L612.9,218.16 L613.8,217.70 L614.6,217.21 L615.5,216.69 L616.3,216.16 L617.2,215.59 L618.0,215.01 L618.9,214.40 L619.7,213.78 L620.6,213.13 L621.5,212.46 L622.3,211.78 L623.2,211.08 L624.0,210.36 L624.9,209.62 L625.7,208.86 L626.6,208.10 L627.4,207.31 L628.3,206.51 L629.1,205.70 L630.0,204.88 L630.8,204.04 L631.7,203.20 L632.6,202.34 L633.4,201.47 L634.3,200.59 L635.1,199.71 L636.0,198.82 L636.8,197.92 L637.7,197.01 L638.5,196.10 L639.4,195.18 L640.2,194.26 L641.1,193.34 L642.0,192.41 L642.8,191.48 L643.7,190.55 L644.5,189.62 L645.4,188.68 L646.2,187.76 L647.1,186.84 L647.9,185.93 L648.8,185.04 L649.6,184.16 L650.5,183.30 L651.3,182.47 L652.2,181.66 L653.1,180.89 L653.9,180.14 L654.8,179.43 L655.6,178.76 L656.5,178.14 L657.3,177.55 L658.2,177.02 L659.0,176.54 L659.9,176.11 L660.7,175.74 L661.6,175.43 L662.4,175.19 L663.3,175.01 L664.2,174.90 L665.0,174.87 L665.9,174.91 L666.7,175.02 L667.6,175.20 L668.4,175.44 L669.3,175.74 L670.1,176.11 L671.0,176.53 L671.8,177.00 L672.7,177.53 L673.5,178.10 L674.4,178.72 L675.3,179.38 L676.1,180.09 L677.0,180.83 L677.8,181.60 L678.7,182.40 L679.5,183.24 L680.4,184.10 L681.2,184.98 L682.1,185.89 L682.9,186.81 L683.8,187.75 L684.7,188.70 L685.5,189.66 L686.4,190.63 L687.2,191.60 L688.1,192.57 L688.9,193.54 L689.8,194.51 L690.6,195.46 L691.5,196.41 L692.3,197.35 L693.2,198.27 L694.0,199.18 L694.9,200.06 L695.8,200.93 L696.6,201.78 L697.5,202.60 L698.3,203.41 L699.2,204.20 L700.0,204.97 L700.9,205.72 L701.7,206.45 L702.6,207.16 L703.4,207.85 L704.3,208.52 L705.1,209.17 L706.0,209.80 L706.9,210.41 L707.7,211.00 L708.6,211.57 L709.4,212.13 L710.3,212.66 L711.1,213.18 L712.0,213.68 L712.8,214.16 L713.7,214.63 L714.5,215.07 L715.4,215.50 L716.3,215.91 L717.1,216.31 L718.0,216.69 L718.8,217.05 L719.7,217.39 L720.5,217.72 L721.4,218.04 L722.2,218.33 L723.1,218.61 L723.9,218.88 L724.8,219.13 L725.6,219.37 L726.5,219.59 L727.4,219.80 L728.2,219.99 L729.1,220.17 L729.9,220.33 L730.8,220.49 L731.6,220.62 L732.5,220.75 L733.3,220.86 L734.2,220.96 L735.0,221.04 L735.9,221.11 L736.7,221.18 L737.6,221.22 L738.5,221.26 L739.3,221.29 L740.2,221.30 L741.0,221.30 L741.9,221.29 L742.7,221.27 L743.6,221.24 L744.4,221.20 L745.3,221.15 L745.5,221.13" stroke="#0000ff" stroke-width="1.50" stroke-dasharray="5.9 1.4"/>
<path d="M440.4,229.40 L441.3,229.41 L442.1,229.41 L443.0,229.40 L443.8,229.38 L444.7,229.36 L445.5,229.33 L446.4,229.29 L447.2,229.24 L448.1,229.18 L448.9,229.11 L449.8,229.03 L450.6,228.94 L451.5,228.83 L452.4,228.72 L453.2,228.59 L454.1,228.45 L454.9,228.30 L455.8,228.14 L456.6,227.96 L457.5,227.76 L458.3,227.55 L459.2,227.33 L460.0,227.09 L460.9,226.83 L461.8,226.56 L462.6,226.27 L463.5,225.96 L464.3,225.63 L465.2,225.29 L466.0,224.93 L466.9,224.55 L467.7,224.14 L468.6,223.72 L469.4,223.28 L470.3,222.82 L471.1,222.33 L472.0,221.82 L472.9,221.29 L473.7,220.74 L474.6,220.17 L475.4,219.57 L476.3,218.95 L477.1,218.30 L478.0,217.63 L478.8,216.93 L479.7,216.20 L480.5,215.46 L481.4,214.68 L482.2,213.88 L483.1,213.04 L484.0,212.19 L484.8,211.30 L485.7,210.38 L486.5,209.44 L487.4,208.46 L488.2,207.45 L489.1,206.42 L489.9,205.36 L490.8,204.27 L491.6,203.15 L492.5,202.02 L493.3,200.86 L494.2,199.69 L495.1,198.50 L495.9,197.29 L496.8,196.08 L497.6,194.86 L498.5,193.63 L499.3,192.39 L500.2,191.15 L501.0,189.92 L501.9,188.71 L502.7,187.51 L503.6,186.33 L504.5,185.18 L505.3,184.07 L506.2,183.00 L507.0,181.97 L507.9,181.00 L508.7,180.09 L509.6,179.24 L510.4,178.46 L511.3,177.76 L512.1,177.14 L513.0,176.61 L513.8,176.17 L514.7,175.83 L515.6,175.60 L516.4,175.48 L517.3,175.47 L518.1,175.58 L519.0,175.80 L519.8,176.12 L520.7,176.53 L521.5,177.04 L522.4,177.64 L523.2,178.32 L524.1,179.08 L524.9,179.91 L525.8,180.80 L526.7,181.76 L527.5,182.78 L528.4,183.84 L529.2,184.96 L530.1,186.11 L530.9,187.30 L531.8,188.52 L532.6,189.77 L533.5,191.04 L534.3,192.33 L535.2,193.62 L536.1,194.92 L536.9,196.23 L537.8,197.53 L538.6,198.83 L539.5,200.11 L540.3,201.38 L541.2,202.64 L542.0,203.87 L542.9,205.07 L543.7,206.25 L544.6,207.39 L545.4,208.49 L546.3,209.55 L547.2,210.58 L548.0,211.56 L548.9,212.50 L549.7,213.41 L550.6,214.29 L551.4,215.13 L552.3,215.94 L553.1,216.72 L554.0,217.47 L554.8,218.19 L555.7,218.88 L556.5,219.55 L557.4,220.20 L558.3,220.82 L559.1,221.42 L560.0,222.01 L560.8,222.57 L561.7,223.11 L562.5,223.64 L563.4,224.14 L564.2,224.63 L565.1,225.09 L565.9,225.54 L566.8,225.97 L567.7,226.38 L568.5,226.77 L569.4,227.15 L570.2,227.50 L571.1,227.84 L571.9,228.17 L572.8,228.47 L573.6,228.76 L574.5,229.03 L575.3,229.28 L576.2,229.52 L577.0,229.75 L577.9,229.95 L578.8,230.14 L579.6,230.32 L580.5,230.47 L581.3,230.62 L582.2,230.75 L583.0,230.86 L583.9,230.96 L584.7,231.04 L585.6,231.11 L586.4,231.17 L587.3,231.21 L588.1,231.24 L589.0,231.25 L589.9,231.25 L590.7,231.24 L591.6,231.22 L592.4,231.18 L593.3,231.13 L594.1,231.07 L595.0,231.00 L595.8,230.91 L596.7,230.81 L597.5,230.71 L598.4,230.59 L599.2,230.46 L600.1,230.31 L601.0,230.16 L601.8,230.00 L602.7,229.83 L603.5,229.65 L604.4,229.46 L605.2,229.26 L606.1,229.05 L606.9,228.83 L607.8,228.60 L608.6,228.36 L609.5,228.12 L610.4,227.86 L611.2,227.60 L612.1,227.33 L612.9,227.06 L613.8,226.78 L614.6,226.48 L615.5,226.19 L616.3,225.88 L617.2,225.56 L618.0,225.23 L618.9,224.88 L619.7,224.51 L620.6,224.13 L621.5,223.72 L622.3,223.30 L623.2,222.84 L624.0,222.37 L624.9,221.86 L625.7,221.32 L626.6,220.76 L627.4,220.16 L628.3,219.52 L629.1,218.85 L630.0,218.13 L630.8,217.38 L631.7,216.59 L632.6,215.75 L633.4,214.86 L634.3,213.93 L635.1,212.97 L636.0,211.96 L636.8,210.93 L637.7,209.86 L638.5,208.77 L639.4,207.65 L640.2,206.52 L641.1,205.37 L642.0,204.20 L642.8,203.03 L643.7,201.85 L644.5,200.66 L645.4,199.48 L646.2,198.30 L647.1,197.12 L647.9,195.95 L648.8,194.80 L649.6,193.66 L650.5,192.54 L651.3,191.45 L652.2,190.38 L653.1,189.34 L653.9,188.33 L654.8,187.35 L655.6,186.42 L656.5,185.53 L657.3,184.68 L658.2,183.88 L659.0,183.13 L659.9,182.44 L660.7,181.81 L661.6,181.23 L662.4,180.73 L663.3,180.29 L664.2,179.92 L665.0,179.62 L665.9,179.41 L666.7,179.27 L667.6,179.22 L668.4,179.26 L669.3,179.38 L670.1,179.58 L671.0,179.87 L671.8,180.23 L672.7,180.66 L673.5,181.16 L674.4,181.72 L675.3,182.34 L676.1,183.02 L677.0,183.75 L677.8,184.53 L678.7,185.35 L679.5,186.22 L680.4,187.12 L681.2,188.06 L682.1,189.03 L682.9,190.02 L683.8,191.03 L684.7,192.07 L685.5,193.11 L686.4,194.17 L687.2,195.24 L688.1,196.31 L688.9,197.37 L689.8,198.44 L690.6,199.50 L691.5,200.54 L692.3,201.57 L693.2,202.59 L694.0,203.60 L694.9,204.59 L695.8,205.57 L696.6,206.53 L697.5,207.48 L698.3,208.41 L699.2,209.32 L700.0,210.22 L700.9,211.09 L701.7,211.95 L702.6,212.79 L703.4,213.60 L704.3,214.40 L705.1,215.17 L706.0,215.92 L706.9,216.65 L707.7,217.35 L708.6,218.03 L709.4,218.68 L710.3,219.31 L711.1,219.91 L712.0,220.49 L712.8,221.04 L713.7,221.56 L714.5,222.06 L715.4,222.53 L716.3,222.98 L717.1,223.41 L718.0,223.81 L718.8,224.20 L719.7,224.56 L720.5,224.90 L721.4,225.23 L722.2,225.54 L723.1,225.83 L723.9,226.10 L724.8,226.36 L725.6,226.60 L726.5,226.83 L727.4,227.04 L728.2,227.25 L729.1,227.44 L729.9,227.62 L730.8,227.78 L731.6,227.94 L732.5,228.09 L733.3,228.23 L734.2,228.37 L735.0,228.49 L735.9,228.60 L736.7,228.71 L737.6,228.81 L738.5,228.90 L739.3,228.98 L740.2,229.06 L741.0,229.12 L741.9,229.18 L742.7,229.23 L743.6,229.28 L744.4,229.32 L745.3,229.35 L745.5,229.36" stroke="#ff0000" stroke-width="1.30" stroke-dasharray="2.05 0.9"/>
<path d="M454.6,233.95 L455.3,233.84 L456.2,233.69 L457.1,233.54 L457.9,233.37 L458.8,233.19 L459.6,232.99 L460.5,232.78 L461.3,232.55 L462.2,232.31 L463.0,232.05 L463.9,231.77 L464.7,231.47 L465.6,231.16 L466.4,230.83 L467.3,230.47 L468.2,230.10 L469.0,229.70 L469.9,229.29 L470.7,228.84 L471.6,228.37 L472.4,227.88 L473.3,227.35 L474.1,226.79 L475.0,226.20 L475.8,225.58 L476.7,224.91 L477.6,224.21 L478.4,223.47 L479.3,222.68 L480.1,221.85 L481.0,220.97 L481.8,220.05 L482.7,219.08 L483.5,218.05 L484.4,216.99 L485.2,215.88 L486.1,214.75 L486.9,213.58 L487.8,212.39 L488.7,211.19 L489.5,209.97 L490.4,208.74 L491.2,207.51 L492.1,206.28 L492.9,205.06 L493.8,203.85 L494.6,202.66 L495.5,201.50 L496.3,200.36 L497.2,199.25 L498.0,198.19 L498.9,197.16 L499.8,196.19 L500.6,195.27 L501.5,194.40 L502.3,193.60 L503.2,192.87 L504.0,192.22 L504.9,191.64 L505.7,191.15 L506.6,190.74 L507.4,190.43 L508.3,190.21 L509.1,190.08 L510.0,190.03 L510.9,190.06 L511.7,190.16 L512.6,190.34 L513.4,190.60 L514.3,190.92 L515.1,191.31 L516.0,191.75 L516.8,192.26 L517.7,192.83 L518.5,193.44 L519.4,194.11 L520.3,194.82 L521.1,195.58 L522.0,196.38 L522.8,197.22 L523.7,198.09 L524.5,198.99 L525.4,199.92 L526.2,200.87 L527.1,201.85 L527.9,202.85 L528.8,203.86 L529.6,204.89 L530.5,205.92 L531.4,206.97 L532.2,208.01 L533.1,209.06 L533.9,210.11 L534.8,211.15 L535.6,212.18 L536.5,213.20 L537.3,214.20 L538.2,215.19 L539.0,216.16 L539.9,217.10 L540.7,218.02 L541.6,218.90 L542.5,219.76 L543.3,220.58 L544.2,221.37 L545.0,222.13 L545.9,222.86 L546.7,223.57 L547.6,224.24 L548.4,224.89 L549.3,225.51 L550.1,226.10 L551.0,226.67 L551.9,227.21 L552.7,227.73 L553.6,228.22 L554.4,228.70 L555.3,229.15 L556.1,229.58 L557.0,229.99 L557.8,230.38 L558.7,230.75 L559.5,231.10 L560.4,231.44 L561.2,231.76 L562.1,232.06 L563.0,232.35 L563.8,232.62 L564.7,232.88 L565.5,233.13 L566.4,233.36 L567.2,233.58 L568.1,233.79 L568.7,233.95 M605.3,233.95 L606.1,233.78 L606.9,233.57 L607.8,233.36 L608.6,233.14 L609.5,232.91 L610.4,232.67 L611.2,232.42 L612.1,232.16 L612.9,231.90 L613.8,231.62 L614.6,231.34 L615.5,231.04 L616.3,230.73 L617.2,230.40 L618.0,230.05 L618.9,229.69 L619.7,229.30 L620.6,228.89 L621.5,228.45 L622.3,227.99 L623.2,227.49 L624.0,226.97 L624.9,226.41 L625.7,225.82 L626.6,225.19 L627.4,224.53 L628.3,223.82 L629.1,223.07 L630.0,222.28 L630.8,221.44 L631.7,220.57 L632.6,219.65 L633.4,218.70 L634.3,217.72 L635.1,216.71 L636.0,215.68 L636.8,214.62 L637.7,213.55 L638.5,212.46 L639.4,211.35 L640.2,210.24 L641.1,209.12 L642.0,208.00 L642.8,206.87 L643.7,205.75 L644.5,204.64 L645.4,203.54 L646.2,202.44 L647.1,201.37 L647.9,200.31 L648.8,199.28 L649.6,198.27 L650.5,197.29 L651.3,196.34 L652.2,195.42 L653.1,194.55 L653.9,193.71 L654.8,192.92 L655.6,192.17 L656.5,191.48 L657.3,190.84 L658.2,190.26 L659.0,189.73 L659.9,189.27 L660.7,188.88 L661.6,188.55 L662.4,188.30 L663.3,188.12 L664.2,188.03 L665.0,188.01 L665.9,188.08 L666.7,188.22 L667.6,188.44 L668.4,188.73 L669.3,189.08 L670.1,189.50 L671.0,189.99 L671.8,190.53 L672.7,191.12 L673.5,191.77 L674.4,192.47 L675.3,193.21 L676.1,193.99 L677.0,194.81 L677.8,195.67 L678.7,196.55 L679.5,197.47 L680.4,198.41 L681.2,199.37 L682.1,200.35 L682.9,201.35 L683.8,202.35 L684.7,203.37 L685.5,204.39 L686.4,205.41 L687.2,206.43 L688.1,207.45 L688.9,208.46 L689.8,209.46 L690.6,210.45 L691.5,211.43 L692.3,212.40 L693.2,213.35 L694.0,214.30 L694.9,215.22 L695.8,216.13 L696.6,217.02 L697.5,217.90 L698.3,218.75 L699.2,219.58 L700.0,220.39 L700.9,221.18 L701.7,221.94 L702.6,222.67 L703.4,223.38 L704.3,224.06 L705.1,224.72 L706.0,225.35 L706.9,225.95 L707.7,226.53 L708.6,227.09 L709.4,227.62 L710.3,228.13 L711.1,228.62 L712.0,229.08 L712.8,229.52 L713.7,229.94 L714.5,230.34 L715.4,230.72 L716.3,231.08 L717.1,231.42 L718.0,231.74 L718.8,232.05 L719.7,232.33 L720.5,232.60 L721.4,232.85 L722.2,233.09 L723.1,233.30 L723.9,233.51 L724.8,233.70 L725.6,233.87 L726.1,233.95" stroke="#000000" stroke-width="1.45" stroke-dasharray="4.9 2.45 2.25 2.6"/>
<path d="M464.5,233.95 L465.2,233.78 L466.0,233.53 L466.9,233.25 L467.7,232.96 L468.6,232.65 L469.4,232.31 L470.3,231.95 L471.1,231.56 L472.0,231.15 L472.9,230.71 L473.7,230.25 L474.6,229.75 L475.4,229.23 L476.3,228.68 L477.1,228.10 L478.0,227.49 L478.8,226.84 L479.7,226.17 L480.5,225.46 L481.4,224.73 L482.2,223.95 L483.1,223.15 L484.0,222.31 L484.8,221.44 L485.7,220.53 L486.5,219.59 L487.4,218.63 L488.2,217.63 L489.1,216.62 L489.9,215.60 L490.8,214.56 L491.6,213.51 L492.5,212.46 L493.3,211.41 L494.2,210.37 L495.1,209.33 L495.9,208.31 L496.8,207.31 L497.6,206.32 L498.5,205.36 L499.3,204.44 L500.2,203.54 L501.0,202.68 L501.9,201.87 L502.7,201.10 L503.6,200.38 L504.5,199.72 L505.3,199.11 L506.2,198.57 L507.0,198.09 L507.9,197.69 L508.7,197.35 L509.6,197.10 L510.4,196.93 L511.3,196.85 L512.1,196.86 L513.0,196.96 L513.8,197.14 L514.7,197.39 L515.6,197.73 L516.4,198.13 L517.3,198.60 L518.1,199.14 L519.0,199.74 L519.8,200.39 L520.7,201.09 L521.5,201.85 L522.4,202.65 L523.2,203.49 L524.1,204.36 L524.9,205.27 L525.8,206.21 L526.7,207.18 L527.5,208.17 L528.4,209.17 L529.2,210.19 L530.1,211.22 L530.9,212.25 L531.8,213.29 L532.6,214.32 L533.5,215.35 L534.3,216.36 L535.2,217.36 L536.1,218.33 L536.9,219.29 L537.8,220.22 L538.6,221.12 L539.5,221.99 L540.3,222.83 L541.2,223.65 L542.0,224.44 L542.9,225.20 L543.7,225.93 L544.6,226.64 L545.4,227.32 L546.3,227.97 L547.2,228.59 L548.0,229.19 L548.9,229.76 L549.7,230.30 L550.6,230.81 L551.4,231.29 L552.3,231.75 L553.1,232.18 L554.0,232.58 L554.8,232.96 L555.7,233.31 L556.5,233.64 L557.4,233.94 L557.4,233.95 M614.6,233.95 L615.5,233.70 L616.3,233.42 L617.2,233.13 L618.0,232.81 L618.9,232.48 L619.7,232.12 L620.6,231.74 L621.5,231.34 L622.3,230.92 L623.2,230.47 L624.0,229.99 L624.9,229.50 L625.7,228.97 L626.6,228.42 L627.4,227.84 L628.3,227.24 L629.1,226.61 L630.0,225.95 L630.8,225.27 L631.7,224.55 L632.6,223.82 L633.4,223.06 L634.3,222.27 L635.1,221.45 L636.0,220.61 L636.8,219.75 L637.7,218.86 L638.5,217.94 L639.4,217.01 L640.2,216.06 L641.1,215.10 L642.0,214.12 L642.8,213.14 L643.7,212.15 L644.5,211.17 L645.4,210.18 L646.2,209.19 L647.1,208.22 L647.9,207.25 L648.8,206.30 L649.6,205.36 L650.5,204.44 L651.3,203.54 L652.2,202.67 L653.1,201.83 L653.9,201.01 L654.8,200.23 L655.6,199.49 L656.5,198.78 L657.3,198.12 L658.2,197.50 L659.0,196.93 L659.9,196.41 L660.7,195.95 L661.6,195.54 L662.4,195.20 L663.3,194.91 L664.2,194.69 L665.0,194.55 L665.9,194.47 L666.7,194.47 L667.6,194.54 L668.4,194.70 L669.3,194.93 L670.1,195.25 L671.0,195.63 L671.8,196.09 L672.7,196.61 L673.5,197.19 L674.4,197.83 L675.3,198.52 L676.1,199.27 L677.0,200.06 L677.8,200.90 L678.7,201.77 L679.5,202.68 L680.4,203.62 L681.2,204.59 L682.1,205.59 L682.9,206.61 L683.8,207.64 L684.7,208.69 L685.5,209.75 L686.4,210.81 L687.2,211.87 L688.1,212.94 L688.9,214.00 L689.8,215.05 L690.6,216.09 L691.5,217.11 L692.3,218.11 L693.2,219.09 L694.0,220.04 L694.9,220.96 L695.8,221.85 L696.6,222.69 L697.5,223.50 L698.3,224.27 L699.2,225.01 L700.0,225.71 L700.9,226.37 L701.7,227.01 L702.6,227.61 L703.4,228.17 L704.3,228.71 L705.1,229.23 L706.0,229.71 L706.9,230.17 L707.7,230.60 L708.6,231.01 L709.4,231.39 L710.3,231.76 L711.1,232.10 L712.0,232.43 L712.8,232.73 L713.7,233.02 L714.5,233.29 L715.4,233.54 L716.3,233.78 L716.9,233.95" stroke="#ff00ff" stroke-width="1.50" stroke-dasharray="8.25 1.4 2.4 1.3 2.4 1.3" stroke-dashoffset="13.35"/>
</g>
<text x="430.27" y="267.00" font-family="Liberation Serif, serif" font-size="24.6" textLength="11.55" lengthAdjust="spacingAndGlyphs">0</text>
<circle cx="445.72" cy="254.00" r="2.5" fill="none" stroke="#000" stroke-width="0.9"/>
<text x="501.36" y="267.00" font-family="Liberation Serif, serif" font-size="24.6" textLength="23.10" lengthAdjust="spacingAndGlyphs">90</text>
<circle cx="528.36" cy="254.00" r="2.5" fill="none" stroke="#000" stroke-width="0.9"/>
<text x="572.45" y="267.00" font-family="Liberation Serif, serif" font-size="24.6" textLength="34.65" lengthAdjust="spacingAndGlyphs">180</text>
<circle cx="611.00" cy="254.00" r="2.5" fill="none" stroke="#000" stroke-width="0.9"/>
<text x="649.31" y="267.00" font-family="Liberation Serif, serif" font-size="24.6" textLength="34.65" lengthAdjust="spacingAndGlyphs">270</text>
<circle cx="687.86" cy="254.00" r="2.5" fill="none" stroke="#000" stroke-width="0.9"/>
<text x="726.18" y="267.00" font-family="Liberation Serif, serif" font-size="24.6" textLength="34.65" lengthAdjust="spacingAndGlyphs">360</text>
<circle cx="764.73" cy="254.00" r="2.5" fill="none" stroke="#000" stroke-width="0.9"/>
<text x="709.80" y="52.4" font-family="Liberation Serif, serif" font-size="19.6" textLength="21.00" lengthAdjust="spacingAndGlyphs">IO</text>
<text x="540.52" y="301.2" font-family="Liberation Serif, serif" font-size="25" font-style="italic">δ</text>
<text x="551.73" y="306.8" font-family="Liberation Serif, serif" font-size="16.8" textLength="22.8" lengthAdjust="spacingAndGlyphs">CP</text>
<text x="585.92" y="301.2" font-family="Liberation Serif, serif" font-size="24.5" textLength="59.6" lengthAdjust="spacingAndGlyphs">(true)</text>
<text x="62.30" y="241.92" font-family="Liberation Serif, serif" font-size="24.6" text-anchor="end" textLength="11.55" lengthAdjust="spacingAndGlyphs">5</text>
<circle cx="66.50" cy="228.92" r="2.5" fill="none" stroke="#000" stroke-width="0.9"/>
<text x="62.30" y="207.02" font-family="Liberation Serif, serif" font-size="24.6" text-anchor="end" textLength="23.10" lengthAdjust="spacingAndGlyphs">10</text>
<circle cx="66.50" cy="194.02" r="2.5" fill="none" stroke="#000" stroke-width="0.9"/>
<text x="62.30" y="172.11" font-family="Liberation Serif, serif" font-size="24.6" text-anchor="end" textLength="23.10" lengthAdjust="spacingAndGlyphs">15</text>
<circle cx="66.50" cy="159.11" r="2.5" fill="none" stroke="#000" stroke-width="0.9"/>
<text x="62.30" y="137.21" font-family="Liberation Serif, serif" font-size="24.6" text-anchor="end" textLength="23.10" lengthAdjust="spacingAndGlyphs">20</text>
<circle cx="66.50" cy="124.21" r="2.5" fill="none" stroke="#000" stroke-width="0.9"/>
<text x="62.30" y="102.31" font-family="Liberation Serif, serif" font-size="24.6" text-anchor="end" textLength="23.10" lengthAdjust="spacingAndGlyphs">25</text>
<circle cx="66.50" cy="89.31" r="2.5" fill="none" stroke="#000" stroke-width="0.9"/>
<text x="62.30" y="67.40" font-family="Liberation Serif, serif" font-size="24.6" text-anchor="end" textLength="23.10" lengthAdjust="spacingAndGlyphs">30</text>
<circle cx="66.50" cy="54.40" r="2.5" fill="none" stroke="#000" stroke-width="0.9"/>
<text x="62.30" y="32.50" font-family="Liberation Serif, serif" font-size="24.6" text-anchor="end" textLength="23.10" lengthAdjust="spacingAndGlyphs">35</text>
<circle cx="66.50" cy="19.50" r="2.5" fill="none" stroke="#000" stroke-width="0.9"/>
<g transform="translate(29.4,155.8) rotate(-90)">
<text x="-1.2" y="0" font-family="Liberation Serif, serif" font-size="26" textLength="16.6" lengthAdjust="spacingAndGlyphs">Δ</text>
<text x="15.4" y="0" font-family="Liberation Serif, serif" font-size="27" font-style="italic">δ</text>
<text x="32.0" y="5.2" font-family="Liberation Serif, serif" font-size="16.8" textLength="21.6" lengthAdjust="spacingAndGlyphs">CP</text>
</g>
<text x="169.50" y="47.20" font-family="Liberation Serif, serif" font-size="19.8" textLength="90.90" lengthAdjust="spacingAndGlyphs">MOMENT</text>
<line x1="273.0" y1="40.90" x2="326.2" y2="40.90" stroke="#000000" stroke-width="1.35"/>
<text x="96.60" y="71.40" font-family="Liberation Serif, serif" font-size="19.8" textLength="163.80" lengthAdjust="spacingAndGlyphs">DUNE+MOMENT</text>
<line x1="273.0" y1="65.30" x2="326.2" y2="65.30" stroke="#0000ff" stroke-width="1.50" stroke-dasharray="5.9 1.4"/>
<text x="100.50" y="95.60" font-family="Liberation Serif, serif" font-size="19.8" textLength="159.90" lengthAdjust="spacingAndGlyphs">T2HK+MOMENT</text>
<line x1="273.0" y1="89.70" x2="326.2" y2="89.70" stroke="#ff0000" stroke-width="1.30" stroke-dasharray="2.05 0.9"/>
<text x="86.00" y="119.80" font-family="Liberation Serif, serif" font-size="19.8" textLength="174.40" lengthAdjust="spacingAndGlyphs">T2HKK+MOMENT</text>
<line x1="273.0" y1="114.10" x2="326.2" y2="114.10" stroke="#000000" stroke-width="1.45" stroke-dasharray="4.9 2.45 2.25 2.6"/>
<text x="108.70" y="144.00" font-family="Liberation Serif, serif" font-size="19.8" textLength="151.70" lengthAdjust="spacingAndGlyphs">LBLs+MOMENT</text>
<line x1="273.0" y1="138.50" x2="326.2" y2="138.50" stroke="#ff00ff" stroke-width="1.50" stroke-dasharray="8.25 1.4 2.4 1.3 2.4 1.3" stroke-dashoffset="13.35"/>
</svg>
</body></html>
